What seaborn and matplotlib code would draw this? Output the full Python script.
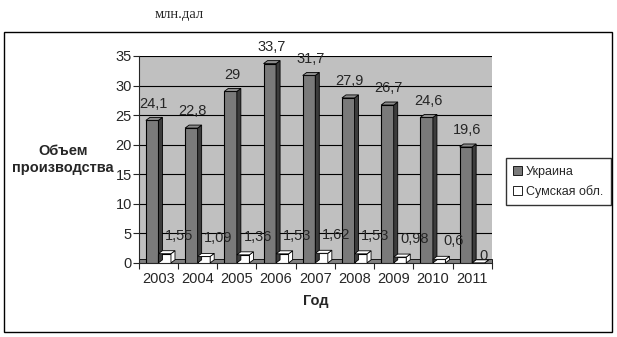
# Производство: Украина и Сумская обл., млн.дал

import numpy as np
import pandas as pd
import matplotlib
matplotlib.use('Agg')
import matplotlib.pyplot as plt
import seaborn as sb
from matplotlib.patches import Polygon, Rectangle, Patch

years = ['2003', '2004', '2005', '2006', '2007', '2008', '2009', '2010', '2011']
ukraine = [24.1, 22.8, 29, 33.7, 31.7, 27.9, 26.7, 24.6, 19.6]
sumy = [1.55, 1.09, 1.36, 1.53, 1.62, 1.53, 0.98, 0.6, 0]
series = ['Украина', 'Сумская обл.']

df = pd.DataFrame({
    'Год': years * 2,
    'value': ukraine + sumy,
    'series': [series[0]] * len(years) + [series[1]] * len(years),
})

sb.set_style('white')
plt.rcParams['font.family'] = ['Liberation Sans', 'DejaVu Sans']

fig = plt.figure(figsize=(6.17, 3.37), dpi=100)
ax = fig.add_axes([0.225, 0.22, 0.572, 0.614])
ax.set_facecolor('#c0c0c0')

sb.barplot(x='Год', y='value', hue='series', data=df, ax=ax,
           palette=['#7a7a7a', 'white'], width=0.64, edgecolor='black',
           linewidth=0.8, legend=False, zorder=3)

ax.set_xlim(-0.5, 8.5)
ax.set_ylim(0, 35)
ax.set_yticks(range(0, 36, 5))
ax.yaxis.grid(True, color='black', linewidth=0.8, zorder=0)
ax.set_axisbelow(True)
for s in ['top', 'right']:
    ax.spines[s].set_visible(False)
ax.spines['left'].set_linewidth(0.8)
ax.spines['bottom'].set_linewidth(0.8)
ax.tick_params(axis='y', left=True, length=4, width=0.8, labelsize=10.5, pad=1)
ax.tick_params(axis='x', bottom=False, labelsize=10.5, pad=3)
ax.set_xticks(np.arange(-0.5, 9, 1), minor=True)
ax.tick_params(axis='x', which='minor', bottom=True, length=4, width=0.8)
ax.set_xlabel('Год', fontsize=10.5, fontweight='bold', labelpad=6)
ax.set_ylabel('Объем\nпроизводства', fontsize=10.5, fontweight='bold',
              rotation=0, ha='center', va='center')
ax.yaxis.set_label_coords(-0.215, 0.5)

# floor strip
ax.add_patch(Rectangle((0, 0), 1, 0.02, transform=ax.transAxes,
                       facecolor='#808080', edgecolor='black', linewidth=0.6,
                       zorder=2, clip_on=False))

# pseudo-3D side and top faces from the drawn bars
fig.canvas.draw()
dx, dy = 4, 3
bars = ax.patches[:2 * len(years)]
for p in bars:
    x0, y0 = p.get_x(), p.get_y()
    x1, y1 = x0 + p.get_width(), y0 + p.get_height()
    (ax0, ay0), (ax1, ay1) = ax.transData.transform([(x0, y0), (x1, y1)])
    face = p.get_facecolor()
    dark = '#3c3c3c' if face[0] < 0.9 else 'white'
    top = '#8c8c8c' if face[0] < 0.9 else 'white'
    side = Polygon([(ax1, ay0), (ax1 + dx, ay0 + dy), (ax1 + dx, ay1 + dy), (ax1, ay1)],
                   closed=True, transform=None, facecolor=dark, edgecolor='black',
                   linewidth=0.6, zorder=4)
    cap = Polygon([(ax0, ay1), (ax0 + dx, ay1 + dy), (ax1 + dx, ay1 + dy), (ax1, ay1)],
                  closed=True, transform=None, facecolor=top, edgecolor='black',
                  linewidth=0.6, zorder=4)
    fig.add_artist(side)
    fig.add_artist(cap)

# value labels
ukr_bars = bars[:len(years)]
sumy_bars = bars[len(years):]
for p, v in zip(ukr_bars, ukraine):
    ax.annotate(f'{v:g}'.replace('.', ','), (p.get_x() + p.get_width() / 2, v),
                xytext=(1, 7), textcoords='offset points', ha='center', va='bottom',
                fontsize=10.5, zorder=5)
for p, v in zip(sumy_bars, sumy):
    off = (6, 8) if v > 0 else (-1, 0)
    ax.annotate(f'{v:g}'.replace('.', ','), (p.get_x() + p.get_width(), v),
                xytext=off, textcoords='offset points', ha='center', va='bottom',
                fontsize=10.5, zorder=5)

# legend
handles = [Patch(facecolor='#7a7a7a', edgecolor='black', linewidth=0.6),
           Patch(facecolor='white', edgecolor='black', linewidth=0.6)]
fig.legend(handles, series, loc='upper left', bbox_to_anchor=(0.82, 0.531),
           frameon=True, fancybox=False, edgecolor='black', fontsize=9,
           handlelength=0.7, handleheight=0.7, handletextpad=0.3,
           borderpad=0.6, labelspacing=0.6, borderaxespad=0)

# outer chart border and title
fig.add_artist(Rectangle((4 / 617, 5 / 337), 608 / 617, 300 / 337,
                         transform=fig.transFigure, fill=False,
                         edgecolor='black', linewidth=1))
fig.text(0.29, 0.975, 'млн.дал', ha='center', va='top', fontsize=10.5,
         family=['Liberation Serif', 'DejaVu Serif'])

fig.savefig('out.png', dpi=100)
